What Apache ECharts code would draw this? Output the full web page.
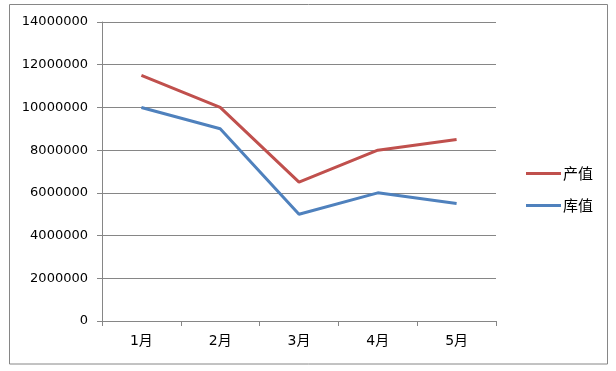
<!DOCTYPE html>
<html><head><meta charset="utf-8">
<script src="https://cdn.jsdelivr.net/npm/echarts@6/dist/echarts.min.js"></script>
<style>html,body{margin:0;padding:0;background:#fff;}#c{width:616px;height:371px;}</style>
</head><body><div id="c"></div>
<script>
const categories = ['1月','2月','3月','4月','5月'];
const outputValues = [11500000, 10000000, 6500000, 8000000, 8500000];
const stockValues = [10000000, 9000000, 5000000, 6000000, 5500000];
const seriesNames = ['产值','库值'];

const chart = echarts.init(document.getElementById('c'), null, {renderer:'canvas'});
const gray = '#868686';
chart.setOption({
  animation:false,
  backgroundColor:'#fff',
  graphic:[{type:'rect',shape:{x:9.5,y:4.5,width:598,height:359.5},style:{fill:'none',stroke:gray,lineWidth:1}}],
  grid:{left:102,top:22,right:120,bottom:50,containLabel:false},
  legend:{orient:'vertical',left:521,top:161,itemWidth:35,itemHeight:14,itemGap:17,
    icon:'path://M0,6 L35,6 L35,9 L0,9 Z',
    textStyle:{fontFamily:'Noto Sans CJK SC',fontSize:15,color:'#000',padding:[0,0,0,-3]},
    data:seriesNames},
  xAxis:{type:'category',data:categories,boundaryGap:true,
    axisLine:{lineStyle:{color:gray,width:1}},
    axisTick:{show:true,length:5,alignWithLabel:false,lineStyle:{color:gray}},
    axisLabel:{margin:13,fontFamily:'DejaVu Sans, Noto Sans CJK SC',fontSize:14,color:'#000'}},
  yAxis:{type:'value',min:0,max:14000000,interval:2000000,
    axisLine:{show:true,lineStyle:{color:gray,width:1}},
    axisTick:{show:true,length:5,lineStyle:{color:gray}},
    splitLine:{show:true,lineStyle:{color:gray,width:1}},
    axisLabel:{margin:14,fontFamily:'DejaVu Sans',fontSize:13,color:'#000',formatter:function(v){return String(v);}}},
  series:[
    {name:seriesNames[0],type:'line',data:outputValues,symbol:'none',lineStyle:{color:'#C0504D',width:3},itemStyle:{color:'#C0504D'}},
    {name:seriesNames[1],type:'line',data:stockValues,symbol:'none',lineStyle:{color:'#4F81BD',width:3},itemStyle:{color:'#4F81BD'}}
  ]
});
</script></body></html>
